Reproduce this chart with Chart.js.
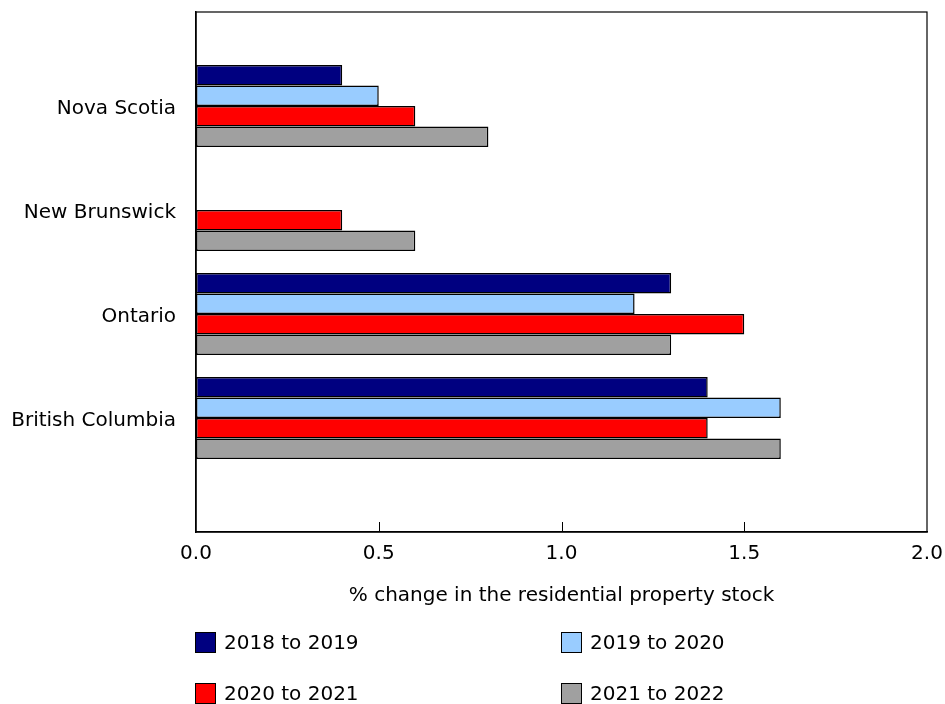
<!DOCTYPE html>
<html>
<head>
<meta charset="utf-8">
<script src="https://cdn.jsdelivr.net/npm/chart.js@4/dist/chart.umd.min.js"></script>
<style>
  body { margin: 0; background: #fff; }
  #wrap { position: relative; width: 945px; height: 704px; overflow: hidden; }
  #legend { position: absolute; left: 0; top: 0; font-family: "DejaVu Sans", Verdana, sans-serif; font-size: 20px; color: #000; }
  .item { position: absolute; display: flex; align-items: center; white-space: nowrap; line-height: 21px; height: 21px; }
  .box { width: 19px; height: 19px; border: 1.5px solid #000; margin-right: 8px; box-sizing: content-box; }
</style>
</head>
<body>
<div id="wrap">
  <canvas id="chart" width="945" height="704"></canvas>
  <div id="legend"></div>
</div>
<script>
'use strict'

// Provinces, top to bottom
const provinces = ['Nova Scotia', 'New Brunswick', 'Ontario', 'British Columbia']

// % change in the residential property stock, per period
const y2018to2019 = [0.4, null, 1.3, 1.4]
const y2019to2020 = [0.5, null, 1.2, 1.6]
const y2020to2021 = [0.6, 0.4, 1.5, 1.4]
const y2021to2022 = [0.8, 0.6, 1.3, 1.6]

const seriesNames = ['2018 to 2019', '2019 to 2020', '2020 to 2021', '2021 to 2022']
const seriesColors = ['#000080', '#99ccff', '#ff0000', '#a0a0a0']

const xTicks = [0, 0.5, 1, 1.5, 2]

// index range of the province axis (leaves the empty band above and below)
const yMin = -0.904
const yMax = 4.096

const font = {family: '"DejaVu Sans", Verdana, sans-serif', size: 20}

function toPoints(values) {
  return values.map((v, i) => ({x: v, y: i}))
}

function noPadding(scale) {
  scale.paddingLeft = 0
  scale.paddingRight = 0
  scale.paddingTop = 0
  scale.paddingBottom = 0
}

// frame around the plot area, plus inward tick marks on the x axis
const framePlugin = {
  id: 'frame',
  afterDraw(chart) {
    const {ctx, chartArea} = chart
    const xs = chart.scales.x
    ctx.save()
    ctx.strokeStyle = '#000'
    ctx.lineWidth = 1.2
    ctx.strokeRect(chartArea.left, chartArea.top, chartArea.right - chartArea.left, chartArea.bottom - chartArea.top)
    ctx.lineWidth = 1
    xTicks.slice(1, -1).forEach((t) => {
      const px = Math.round(xs.getPixelForValue(t)) + 0.5
      ctx.beginPath()
      ctx.moveTo(px, chartArea.bottom)
      ctx.lineTo(px, chartArea.bottom - 10)
      ctx.stroke()
    })
    ctx.restore()
  }
}

const allSeries = [y2018to2019, y2019to2020, y2020to2021, y2021to2022]

const chart = new Chart(
  document.getElementById('chart'),
  {
    type: 'bar',
    data: {
      labels: provinces,
      datasets: allSeries.map((values, i) => ({
        label: seriesNames[i],
        data: toPoints(values),
        backgroundColor: seriesColors[i],
        borderColor: '#000',
        borderWidth: 1.5,
        borderSkipped: false,
        categoryPercentage: 0.79,
        barPercentage: 1
      }))
    },
    options: {
      indexAxis: 'y',
      responsive: false,
      animation: false,
      layout: {
        padding: {top: 12, right: 18, left: 0, bottom: 96}
      },
      scales: {
        x: {
          type: 'linear',
          min: 0,
          max: 2,
          afterBuildTicks: (scale) => { scale.ticks = xTicks.map((v) => ({value: v})) },
          afterFit: (scale) => { scale.height = 76; noPadding(scale) },
          grid: {display: false, drawTicks: false},
          border: {display: true, color: '#000', width: 1.5},
          ticks: {
            color: '#000',
            font: font,
            padding: 10,
            maxRotation: 0,
            callback: (v) => Number(v).toFixed(1)
          },
          title: {
            display: true,
            text: '% change in the residential property stock',
            color: '#000',
            font: font,
            padding: {top: 0, bottom: 0}
          }
        },
        y: {
          type: 'linear',
          reverse: true,
          offset: false,
          bounds: 'data',
          min: yMin,
          max: yMax,
          afterBuildTicks: (scale) => { scale.ticks = provinces.map((p, i) => ({value: i})) },
          afterFit: (scale) => { scale.width = 196; noPadding(scale) },
          grid: {display: false, drawTicks: false, offset: false},
          border: {display: true, color: '#000', width: 1.5},
          ticks: {
            color: '#000',
            font: font,
            padding: 20,
            labelOffset: 3,
            callback: (v) => provinces[v]
          }
        }
      },
      plugins: {
        legend: {display: false},
        tooltip: {enabled: false}
      }
    },
    plugins: [framePlugin]
  }
)

// legend in two columns under the chart
const legend = document.getElementById('legend')
chart.data.datasets.forEach((ds, i) => {
  const item = document.createElement('div')
  item.className = 'item'
  item.style.left = (i % 2 === 0 ? 195 : 561) + 'px'
  item.style.top = (i < 2 ? 632 : 683) + 'px'
  const box = document.createElement('span')
  box.className = 'box'
  box.style.background = ds.backgroundColor
  item.appendChild(box)
  item.appendChild(document.createTextNode(ds.label))
  legend.appendChild(item)
})
</script>
</body>
</html>
